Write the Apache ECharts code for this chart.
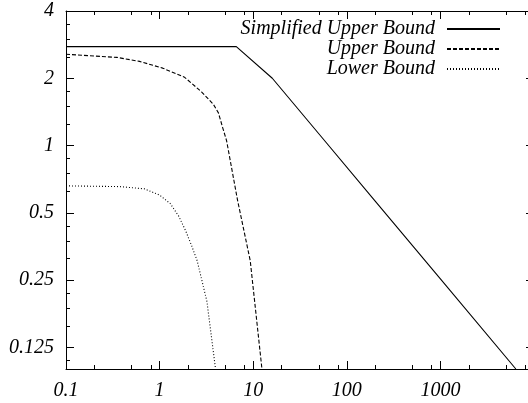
<!DOCTYPE html>
<html><head><meta charset="utf-8">
<script src="https://cdn.jsdelivr.net/npm/echarts@6/dist/echarts.min.js"></script>
<style>html,body{margin:0;padding:0;background:#fff}#c{width:528px;height:403px}</style>
</head><body><div id="c"></div>
<script>
const seriesNames = ['Simplified Upper Bound', 'Upper Bound', 'Lower Bound'];
const simplifiedUpper = [[0.1,2.77],[6.6,2.77],[16,2.0],[54,1.089],[200,0.566],[1000,0.253],[6400,0.1]];
const upperBound = [[0.1,2.56],[0.35,2.48],[0.61,2.38],[1.08,2.22],[1.85,2.02],[2.8,1.74],[3.75,1.53],[4.25,1.40],[4.7,1.21],[5.2,1.05],[6.8,0.57],[9.3,0.305],[12.4,0.1]];
const lowerBound = [[0.1,0.66],[0.375,0.655],[0.69,0.64],[1.0,0.60],[1.3,0.55],[1.6,0.483],[1.9,0.415],[2.2,0.356],[2.52,0.305],[3.2,0.201],[3.96,0.1]];
const xMinorTicks = [0.2,0.5,0.8,2,5,8,20,50,80,200,500,800,2000,5000,8000];
const yMinorTicks = [0.109375,0.15625,0.1875,0.21875,0.3125,0.375,0.4375,0.625,0.75,0.875,1.25,1.5,1.75,2.5,3,3.5];

const FONT = 'Liberation Serif';
const labelStyle = {fontFamily: FONT, fontStyle: 'italic', fontSize: 20, color: '#000'};
const lineCol = '#000';

function axisCommon(extra) {
  return Object.assign({
    axisLine: {show: true, lineStyle: {color: lineCol, width: 1}},
    axisTick: {show: true, inside: true, length: 8, lineStyle: {color: lineCol, width: 1}},
    splitLine: {show: false},
    minorTick: {show: false},
    minorSplitLine: {show: false}
  }, extra);
}
function fmt(v) { return String(+v.toPrecision(6)); }

const chart = echarts.init(document.getElementById('c'), null, {renderer: 'canvas'});
const styles = [
  {color: '#000', width: 1.1, type: 'solid'},
  {color: '#000', width: 1.1, type: [4, 2]},
  {color: '#000', width: 1.1, type: [1, 2]}
];
const datas = [simplifiedUpper, upperBound, lowerBound];
const legendTops = [14, 34, 54];

function tickLine(x1, y1, x2, y2) {
  return {type: 'line', shape: {x1, y1, x2, y2}, style: {stroke: lineCol, lineWidth: 1}};
}

chart.setOption({
  animation: false,
  backgroundColor: '#fff',
  grid: {left: 66, right: -6, top: 11, bottom: 34, outerBoundsMode: 'none', containLabel: false},
  legend: seriesNames.map((n, i) => ({
    data: [n], right: 22, top: legendTops[i], align: 'right', orient: 'vertical',
    itemWidth: 53, itemHeight: 14, selectedMode: false,
    itemStyle: {opacity: 0},
    textStyle: Object.assign({}, labelStyle, {padding: [0, 7, 0, 0]})
  })),
  xAxis: [
    axisCommon({type: 'log', logBase: 10, min: 0.1, max: 10000, position: 'bottom',
      axisLabel: Object.assign({margin: 12, showMaxLabel: false, formatter: fmt}, labelStyle)}),
    axisCommon({type: 'log', logBase: 10, min: 0.1, max: 10000, position: 'top',
      axisLabel: {show: false}})
  ],
  yAxis: [
    axisCommon({type: 'log', logBase: 2, min: 0.1, max: 4, position: 'left',
      axisLabel: Object.assign({margin: 12, showMinLabel: false, formatter: fmt}, labelStyle)}),
    axisCommon({type: 'log', logBase: 2, min: 0.1, max: 4, position: 'right',
      axisLabel: {show: false}})
  ],
  series: seriesNames.map((n, i) => ({
    name: n, type: 'line', data: datas[i], symbol: 'none', showSymbol: false,
    lineStyle: styles[i], itemStyle: {color: '#000'}, xAxisIndex: 0, yAxisIndex: 0,
    silent: true
  })).concat([
    {
      type: 'custom', xAxisIndex: 0, yAxisIndex: 0, silent: true, clip: false,
      data: xMinorTicks.map(v => [v, 1]),
      renderItem(params, api) {
        const cs = params.coordSys;
        const x = Math.round(api.coord([api.value(0), 1])[0]) + 0.5;
        const b = cs.y + cs.height, t = cs.y;
        return {type: 'group', children: [tickLine(x, b, x, b - 4), tickLine(x, t, x, t + 4)]};
      }
    },
    {
      type: 'custom', xAxisIndex: 0, yAxisIndex: 0, silent: true, clip: false,
      data: yMinorTicks.map(v => [1, v]),
      renderItem(params, api) {
        const cs = params.coordSys;
        const y = Math.round(api.coord([1, api.value(1)])[1]) + 0.5;
        const l = cs.x, r = cs.x + cs.width;
        return {type: 'group', children: [tickLine(l, y, l + 4, y), tickLine(r, y, r - 4, y)]};
      }
    }
  ])
});
</script></body></html>
